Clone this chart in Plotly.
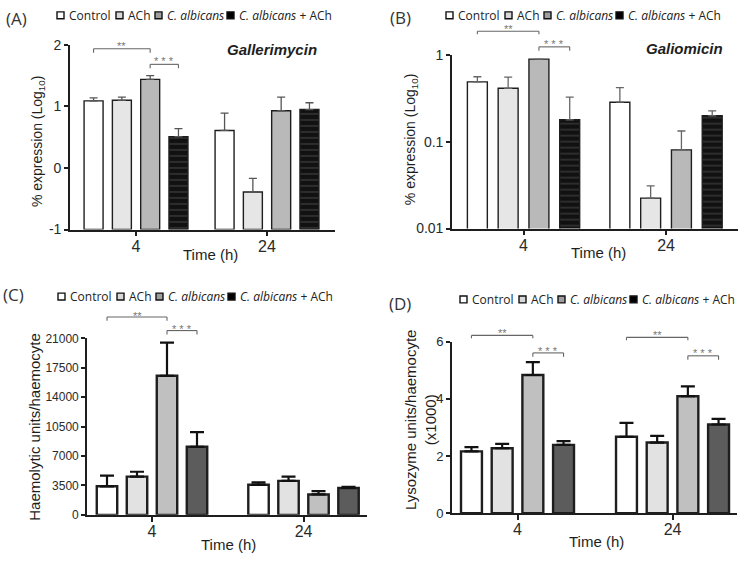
import plotly.graph_objects as go

W, H = 750, 563

# ---------------- data ----------------
times = ["4", "24"]
series_names = ["Control", "ACh", "<i>C. albicans</i>", "<i>C. albicans</i> + ACh"]

# (A) Gallerimycin, % expression (Log10): means and upper error
gal_control = [1.09, 0.61]
gal_ach = [1.10, -0.39]
gal_calb = [1.44, 0.93]
gal_calb_ach = [0.51, 0.95]
gal_control_err = [0.05, 0.28]
gal_ach_err = [0.05, 0.22]
gal_calb_err = [0.06, 0.22]
gal_calb_ach_err = [0.13, 0.11]

# (B) Galiomicin, % expression (log scale)
gali_control = [0.486, 0.284]
gali_ach = [0.41, 0.0224]
gali_calb = [0.887, 0.0804]
gali_calb_ach = [0.178, 0.198]
gali_control_err = [0.071, 0.133]
gali_ach_err = [0.14, 0.0086]
gali_calb_err = [0.0, 0.052]
gali_calb_ach_err = [0.147, 0.027]

# (C) Haemolytic units / haemocyte
hae_control = [3400, 3580]
hae_ach = [4550, 4040]
hae_calb = [16550, 2430]
hae_calb_ach = [8100, 3200]
hae_control_err = [1270, 280]
hae_ach_err = [580, 510]
hae_calb_err = [3930, 395]
hae_calb_ach_err = [1735, 120]

# (D) Lysozyme units / haemocyte (x1000)
lys_control = [2.16, 2.67]
lys_ach = [2.27, 2.47]
lys_calb = [4.83, 4.09]
lys_calb_ach = [2.39, 3.10]
lys_control_err = [0.15, 0.49]
lys_ach_err = [0.15, 0.23]
lys_calb_err = [0.45, 0.34]
lys_calb_ach_err = [0.13, 0.20]

y_ticks_a = [-1, 0, 1, 2]
y_ticks_a_text = ["-1", "0", "1", "2"]
y_ticks_b = [0.01, 0.1, 1]
y_ticks_b_text = ["0.01", "0.1", "1"]
y_ticks_c = [0, 3500, 7000, 10500, 14000, 17500, 21000]
y_ticks_d = [0, 2, 4, 6]

# ---------------- style / layout ----------------
AX = "Liberation Sans, Arial, sans-serif"
LF = "Open Sans, sans-serif"
INK = "#1e1e1e"

panels = [
    dict(means=[gal_control, gal_ach, gal_calb, gal_calb_ach],
         errs=[gal_control_err, gal_ach_err, gal_calb_err, gal_calb_ach_err],
         xpx=(70, 335), ypx=(38, 228), xr=(-0.504, 1.519), yr=(-1, 2), ytype="linear",
         yticks=y_ticks_a, ytext=y_ticks_a_text, ytf=14, pitch=0.216, width=0.145, base=-1,
         colors=["white", "#e6e6e6", "#b9b9b9", "#111111"], outline=1.4,
         errc="#555555", errt=1.3, errw=4, pattern=True),
    dict(means=[gali_control, gali_ach, gali_calb, gali_calb_ach],
         errs=[gali_control_err, gali_ach_err, gali_calb_err, gali_calb_ach_err],
         xpx=(452, 738), ypx=(48, 227), xr=(-0.502, 1.505), yr=(-2, 0), ytype="log",
         yticks=y_ticks_b, ytext=y_ticks_b_text, ytf=14, pitch=0.216, width=0.14, base=None,
         colors=["white", "#e6e6e6", "#b9b9b9", "#111111"], outline=1.4,
         errc="#666666", errt=1.3, errw=4, pattern=True),
    dict(means=[hae_control, hae_ach, hae_calb, hae_calb_ach],
         errs=[hae_control_err, hae_ach_err, hae_calb_err, hae_calb_ach_err],
         xpx=(87, 367), ypx=(340, 521.7), xr=(-0.429, 1.419), yr=(0, 21000), ytype="linear",
         yticks=y_ticks_c, ytext=None, ytf=12, pitch=0.198, width=0.135, base=None,
         colors=["white", "#e2e2e2", "#c0c0c0", "#5c5c5c"], outline=2.4,
         errc="#111111", errt=2.2, errw=7, pattern=False),
    dict(means=[lys_control, lys_ach, lys_calb, lys_calb_ach],
         errs=[lys_control_err, lys_ach_err, lys_calb_err, lys_calb_ach_err],
         xpx=(452, 737), ypx=(343.3, 520), xr=(-0.4226, 1.416), yr=(0, 6), ytype="linear",
         yticks=y_ticks_d, ytext=None, ytf=13, pitch=0.198, width=0.135, base=None,
         colors=["white", "#e2e2e2", "#c0c0c0", "#5c5c5c"], outline=2.4,
         errc="#111111", errt=2.2, errw=7, pattern=False),
]

fig = go.Figure()
xpos = list(range(len(times)))

for pi, p in enumerate(panels):
    sfx = "" if pi == 0 else str(pi + 1)
    for k in range(len(series_names)):
        vals = p["means"][k]
        ys = vals if p["base"] is None else [v - p["base"] for v in vals]
        marker = dict(color=p["colors"][k], line=dict(color=INK, width=p["outline"]))
        if p["pattern"] and k == 3:
            marker["pattern"] = dict(shape="-", fgcolor="#505050", size=6, solidity=0.3)
        fig.add_trace(go.Bar(
            x=xpos, y=ys, base=p["base"], name=series_names[k],
            offset=(k - 1.5) * p["pitch"] - p["width"] / 2, width=p["width"],
            marker=marker,
            error_y=dict(type="data", symmetric=False, array=p["errs"][k],
                         arrayminus=[0] * len(vals), color=p["errc"],
                         thickness=p["errt"], width=p["errw"]),
            xaxis="x" + sfx, yaxis="y" + sfx, showlegend=False, hoverinfo="skip"))

    x0, x1 = p["xpx"]
    y0, y1 = p["ypx"]
    fig.layout["xaxis" + sfx] = dict(
        domain=[x0 / W, x1 / W], range=list(p["xr"]), anchor="y" + sfx,
        tickvals=xpos, ticktext=times, ticks="outside", ticklen=5, tickwidth=1.6,
        tickcolor=INK, showline=True, linecolor=INK, linewidth=1.6,
        showgrid=False, zeroline=False, fixedrange=True, ticklabelstandoff=-4,
        tickfont=dict(family=AX, size=16, color="#2a2a2a"))
    yax = dict(
        domain=[1 - y1 / H, 1 - y0 / H], range=list(p["yr"]), type=p["ytype"],
        anchor="x" + sfx, tickvals=p["yticks"], ticks="outside", ticklen=4,
        tickwidth=1.6, tickcolor=INK, showline=True, linecolor=INK, linewidth=1.6,
        showgrid=False, zeroline=False, fixedrange=True,
        tickfont=dict(family=AX, size=p["ytf"], color="#2a2a2a"))
    if p["ytext"] is not None:
        yax["ticktext"] = p["ytext"]
    else:
        yax["tickformat"] = "d"
    fig.layout["yaxis" + sfx] = yax


def bar_center_px(pi, g, k):
    p = panels[pi]
    xd = g + (k - 1.5) * p["pitch"]
    r0, r1 = p["xr"]
    x0, x1 = p["xpx"]
    return x0 + (xd - r0) / (r1 - r0) * (x1 - x0)


shapes = []
annos = []


def px_anno(text, x, y, size, family=AX, color=INK, angle=0, xanchor="center"):
    annos.append(dict(text=text, x=x / W, y=1 - y / H, xref="paper", yref="paper",
                      showarrow=False, textangle=angle, xanchor=xanchor, yanchor="middle",
                      font=dict(family=family, size=size, color=color)))


def line(xa, ya, xb, yb, color="#666666", width=1.1):
    shapes.append(dict(type="line", xref="paper", yref="paper",
                       x0=xa / W, y0=1 - ya / H, x1=xb / W, y1=1 - yb / H,
                       line=dict(color=color, width=width)))


# significance brackets: panel, group, bar i, bar j, line y px, tick length, label, label y px
brackets = [
    (0, 0, 0, 2, 42, 4, "**", 39),
    (0, 0, 2, 3, 58, 4, "* * *", 55),
    (1, 0, 0, 2, 24, 3, "**", 22),
    (1, 0, 2, 3, 40, 4, "* * *", 37),
    (2, 0, 0, 2, 318, 4, "**", 317),
    (2, 0, 2, 3, 332, 4, "* * *", 330),
    (3, 0, 0, 2, 337, 3, "**", 335),
    (3, 0, 2, 3, 355, 4, "* * *", 353),
    (3, 1, 0, 2, 339, 3, "**", 337),
    (3, 1, 2, 3, 358, 4, "* * *", 355),
]
for pi, g, i, j, yl, tl, lab, ty in brackets:
    xa = bar_center_px(pi, g, i)
    xb = bar_center_px(pi, g, j)
    line(xa, yl, xb, yl)
    line(xa, yl, xa, yl + tl)
    line(xb, yl, xb, yl + tl)
    px_anno(lab, (xa + xb) / 2, ty, 11, color="#777777")

# legends (one per panel)
legend_fill = ["white", "#d8d8d8", "#9e9e9e", "#000000"]
sq_off = [0, 59, 98, 170]
legend_pos = [(57, 7.5), (446, 7.5), (58, 297), (460, 300)]
for lx, ly in legend_pos:
    for k, name in enumerate(series_names):
        sx = lx + sq_off[k]
        shapes.append(dict(type="rect", xref="paper", yref="paper",
                           x0=sx / W, x1=(sx + 7) / W, y0=1 - (ly + 3.5) / H, y1=1 - (ly - 3.5) / H,
                           fillcolor=legend_fill[k], line=dict(color="#111111", width=1.4)))
        px_anno(name, sx + 10, ly, 12, family=LF, color="#222222", xanchor="left")

# panel letters
for lab, x, y in [("(A)", 16, 11), ("(B)", 401, 10), ("(C)", 13, 295), ("(D)", 400, 304)]:
    px_anno(lab, x, y, 17, family=LF, color="#333333")

# gene names
px_anno("<b><i>Gallerimycin</i></b>", 272, 43, 15)
px_anno("<b><i>Galiomicin</i></b>", 684, 42, 15)

# axis titles
for x, y in [(210, 254), (598, 252), (228, 552), (596, 549)]:
    px_anno("Time (h)", x, y, 15)
px_anno("% expression (Log<sub>10</sub>)", 38, 137, 14, angle=-90)
px_anno("% expression (Log<sub>10</sub>)", 411, 135, 14, angle=-90)
px_anno("Haemolytic units/haemocyte", 35, 431, 15, angle=-90)
px_anno("Lysozyme units/haemocyte<br>(x1000)", 421, 424, 15, angle=-90)

fig.update_layout(
    width=W, height=H, autosize=False, margin=dict(l=0, r=0, t=0, b=0),
    paper_bgcolor="white", plot_bgcolor="white", barmode="overlay",
    showlegend=False, shapes=shapes, annotations=annos)

fig.write_html("out.html", config={"displayModeBar": False},
               post_script="document.body.style.margin='0px';")
